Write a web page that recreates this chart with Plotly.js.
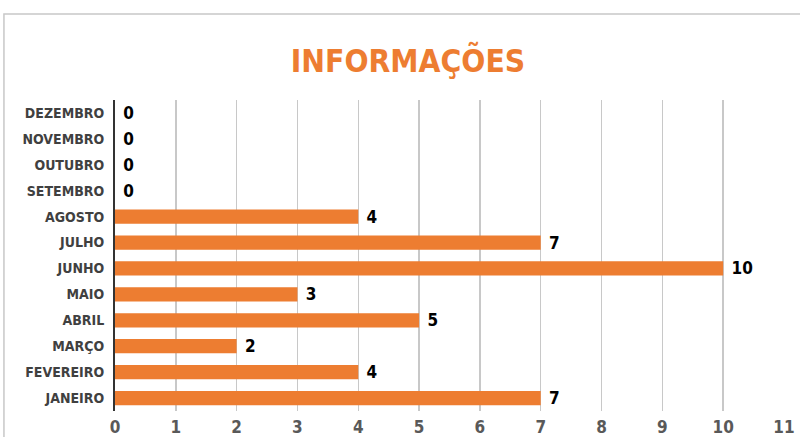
<!DOCTYPE html>
<html>
<head>
<meta charset="utf-8">
<script src="https://cdn.plot.ly/plotly-3.0.1.min.js"></script>
<style>
html,body{margin:0;padding:0;background:#fff;}
#chart{width:800px;height:437px;}
</style>
</head>
<body>
<div id="chart"></div>
<script>
const months = ["JANEIRO","FEVEREIRO","MARÇO","ABRIL","MAIO","JUNHO","JULHO","AGOSTO","SETEMBRO","OUTUBRO","NOVEMBRO","DEZEMBRO"];
const values = [7,4,2,5,3,10,7,4,0,0,0,0];
const xTicks = [0,1,2,3,4,5,6,7,8,9,10,11];

const narrow = '"DejaVu Sans Condensed", "Liberation Sans Narrow", Arial, sans-serif';

const trace = {
  type: 'bar',
  orientation: 'h',
  y: months,
  x: values,
  texttemplate: ' %{x}',
  textposition: 'outside',
  constraintext: 'none',
  cliponaxis: false,
  textfont: {family: narrow, size: 17, color: '#000', weight: 'bold'},
  marker: {color: '#ED7D31'},
  hoverinfo: 'none'
};

const layout = {
  width: 800, height: 437,
  margin: {l: 115, r: 16, t: 100, b: 26},
  paper_bgcolor: '#fff', plot_bgcolor: '#fff',
  showlegend: false,
  bargap: 0.45,
  title: {text: 'INFORMAÇÕES', font: {family: narrow, size: 31.5, color: '#ED7D31', weight: 'bold'}, x: 0.51, xanchor: 'center', y: 0.86, yanchor: 'middle'},
  xaxis: {
    range: [0, 11], tickvals: xTicks, ticktext: xTicks.map(String),
    showgrid: true, gridcolor: '#c8c8c8', gridwidth: 1.5,
    zeroline: false, showline: false, ticks: '', ticklabelstandoff: 4,
    tickfont: {family: narrow, size: 17, color: '#595959', weight: 'bold'},
    fixedrange: true
  },
  yaxis: {
    type: 'category', categoryorder: 'array', categoryarray: months,
    showgrid: false, zeroline: false,
    showline: true, linecolor: '#333', linewidth: 2,
    ticks: '', ticklabelstandoff: 6,
    tickfont: {family: narrow, size: 14, color: '#404040', weight: 'bold'},
    fixedrange: true
  },
  shapes: [{
    type: 'rect', xref: 'paper', yref: 'paper',
    x0: -0.166, x1: 1.2, y0: -0.5, y1: 1.2765,
    line: {color: '#c8c8c8', width: 1.5}, fillcolor: 'rgba(0,0,0,0)', layer: 'below'
  }]
};

Plotly.newPlot('chart', [trace], layout, {displayModeBar: false, staticPlot: true});
</script>
</body>
</html>
